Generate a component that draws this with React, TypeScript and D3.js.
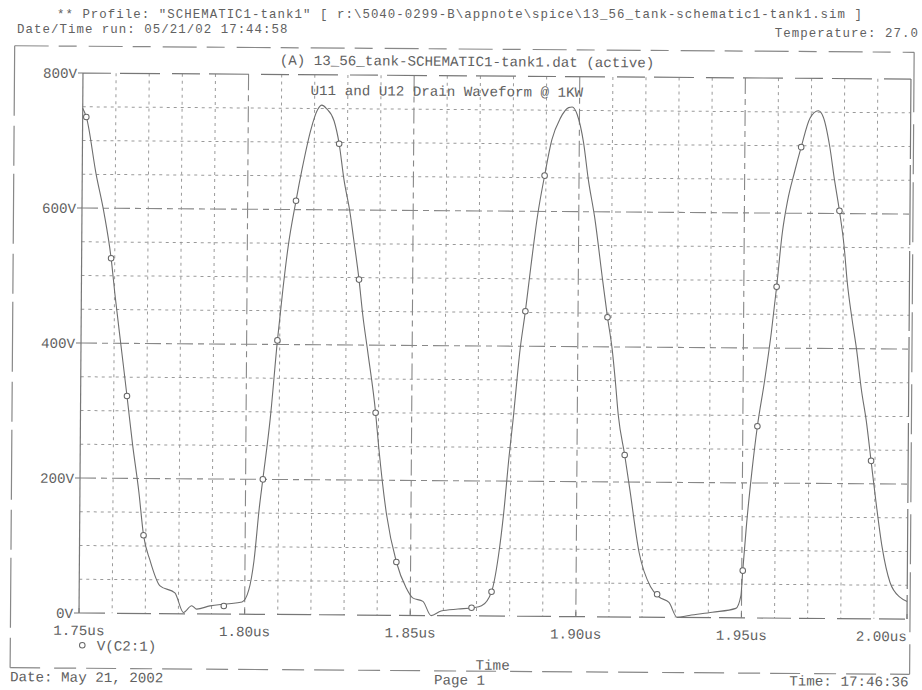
import React from 'react';
import * as d3 from 'd3';

// V(C2:1) drain waveform (time in ns, volts)
const timeNs = [
  1750, 1751.1, 1754.2, 1756.7, 1758.9, 1760.2, 1762.2, 1764.0, 1765.8, 1767.8,
  1769.3, 1771.3, 1774.4, 1778.9, 1781.5, 1784.0, 1785.5, 1789.5, 1794.6, 1799.2,
  1801.2, 1802.7, 1804.2, 1805.2, 1807.3, 1809.3, 1810.8, 1812.3, 1814.6, 1816.4,
  1818.9, 1820.9, 1822.2, 1823.6, 1825.9, 1827.5, 1829.0, 1831.0, 1832.0, 1833.8,
  1835.0, 1836.6, 1839.1, 1840.1, 1842.6, 1845.7, 1848.7, 1850.7, 1853.8, 1856.3,
  1859.3, 1864.4, 1868.9, 1871.5, 1874.5, 1876.5, 1878.0, 1879.5, 1880.6, 1882.6,
  1884.1, 1885.6, 1887.6, 1889.6, 1891.7, 1894.2, 1896.7, 1897.8, 1899.3, 1901.3,
  1902.8, 1904.8, 1907.4, 1908.9, 1910.4, 1911.4, 1912.4, 1914.4, 1916.0, 1919.0,
  1922.5, 1925.1, 1928.1, 1930.6, 1934.2, 1941.2, 1948.3, 1949.8, 1950.3, 1951.3,
  1952.8, 1954.4, 1956.4, 1958.4, 1959.9, 1961.5, 1963.0, 1965.0, 1967.0, 1969.6,
  1972.1, 1973.6, 1975.6, 1977.1, 1978.7, 1980.2, 1981.2, 1982.7, 1984.2, 1985.7,
  1987.3, 1988.8, 1990.3, 1992.3, 1994.8, 1997.9, 2000,
];
const volts = [
  748, 735, 650, 592, 526, 470, 392, 322, 250, 180,
  116, 79, 41, 31, 2, 12, 7, 12, 15, 18,
  36, 79, 158, 200, 290, 406, 480, 544, 613, 661,
  718, 748, 755, 750, 732, 698, 646, 594, 560, 497,
  445, 390, 300, 250, 150, 79, 41, 26, 21, 0,
  7, 10, 12, 15, 36, 89, 153, 237, 290, 396,
  452, 516, 595, 653, 706, 738, 754, 755, 744, 702,
  648, 592, 497, 444, 396, 350, 298, 240, 190, 95,
  45, 30, 22, 0, 3, 8, 14, 33, 70, 136,
  215, 284, 349, 423, 491, 571, 618, 660, 698, 741,
  752, 743, 700, 651, 604, 551, 499, 445, 398, 340,
  292, 234, 176, 107, 54, 32, 26,
];

// little circle symbols printed along the trace
const markerTimeNs = [
  1751.1, 1758.9, 1764.0, 1769.3, 1793.7, 1805.2, 1809.3, 1814.6, 1827.5, 1833.8,
  1839.1, 1845.7, 1868.5, 1874.5, 1884.1, 1889.6, 1908.9, 1914.4, 1924.5, 1950.3,
  1954.4, 1959.9, 1967.0, 1978.7, 1988.8,
];
const markerVolts = [
  735, 526, 322, 116, 12, 200, 406, 613, 698, 497,
  300, 79, 12, 36, 452, 653, 444, 240, 34, 70,
  284, 491, 698, 604, 234,
];

const xTicks = [1750, 1800, 1850, 1900, 1950, 2000];
const xTickLabels = ['1.75us', '1.80us', '1.85us', '1.90us', '1.95us', '2.00us'];
const yTicks = [0, 200, 400, 600, 800];
const yTickLabels = ['0V', '200V', '400V', '600V', '800V'];
const xMinor = d3.range(1760, 2000, 10);
const yMinor = d3.range(50, 800, 50);

const headerProfile =
  '** Profile: "SCHEMATIC1-tank1"  [ r:\\5040-0299-B\\appnote\\spice\\13_56_tank-schematic1-tank1.sim ]';
const headerRun = 'Date/Time run: 05/21/02 17:44:58';
const headerTemp = 'Temperature: 27.0';
const dataFile = '(A) 13_56_tank-SCHEMATIC1-tank1.dat (active)';
const plotTitle = 'U11 and U12 Drain Waveform @ 1KW';
const traceName = 'V(C2:1)';
const footerDate = 'Date: May 21, 2002';
const footerPage = 'Page 1';
const footerTime = 'Time: 17:46:36';
const xTitle = 'Time';

const W = 922;
const H = 690;
const plot = { left: 81, right: 909, top: 75.8, bottom: 615.8 };
const frame = { left: 12.5, right: 912, top: 49, bottom: 671 };

const ink = '#616161';
const font = '"Liberation Mono", "DejaVu Sans Mono", monospace';

const App = () => {
  const x = d3.scaleLinear().domain([1750, 2000]).range([plot.left, plot.right]);
  const y = d3.scaleLinear().domain([0, 800]).range([plot.bottom, plot.top]);

  const points = timeNs.map((t, i) => [t, volts[i]] as [number, number]);
  const line = d3
    .line<[number, number]>()
    .x((d) => x(d[0]))
    .y((d) => y(d[1]))
    .curve(d3.curveMonotoneX);

  const textProps = { fontFamily: font, fontSize: 14.2, fill: ink };
  // the two stacked header lines sit very close in the printout
  const headProps = { fontFamily: font, fontSize: 12.4, letterSpacing: 1.05, fill: ink };

  return (
    <svg
      width={W}
      height={H}
      style={{ position: 'absolute', left: 0, top: 0, background: '#fff' }}
    >
      {/* header lines, kept level so the stacked rows do not collide */}
      <text {...headProps} x={460} y={18.4} textAnchor="middle">
        {headerProfile}
      </text>
      <text {...headProps} x={17} y={32.8}>
        {headerRun}
      </text>
      <text {...headProps} x={919} y={37.2} textAnchor="end">
        {headerTemp}
      </text>

      {/* the scan is tilted a little clockwise */}
      <g transform="rotate(0.42 460 345)">
        {/* page frame */}
        <g stroke="#888" fill="none" strokeWidth={1.2}>
          <line x1={frame.left} x2={frame.right} y1={frame.top} y2={frame.top} strokeDasharray="34 10 18 12" />
          <line x1={frame.left} x2={frame.right} y1={frame.bottom} y2={frame.bottom} strokeDasharray="30 14 22 10" />
          <line x1={frame.left} x2={frame.left} y1={frame.top} y2={frame.bottom} strokeDasharray="70 10 40 8" />
          <line x1={frame.right} x2={frame.right} y1={frame.top} y2={frame.bottom} strokeDasharray="60 12 50 8" />
        </g>

        {/* minor grid */}
        <g stroke="#9a9a9a" strokeWidth={1} strokeDasharray="3 4">
          {xMinor
            .filter((t) => !xTicks.includes(t))
            .map((t) => (
              <line key={'vx' + t} x1={x(t)} x2={x(t)} y1={plot.top} y2={plot.bottom} />
            ))}
          {yMinor
            .filter((v) => !yTicks.includes(v))
            .map((v) => (
              <line key={'hy' + v} x1={plot.left} x2={plot.right} y1={y(v)} y2={y(v)} />
            ))}
        </g>
        {/* major grid */}
        <g stroke="#888" strokeWidth={1.1} strokeDasharray="16 5 6 5">
          {xTicks.slice(1, -1).map((t) => (
            <line key={'mx' + t} x1={x(t)} x2={x(t)} y1={plot.top} y2={plot.bottom} />
          ))}
          {yTicks.slice(1, -1).map((v) => (
            <line key={'my' + v} x1={plot.left} x2={plot.right} y1={y(v)} y2={y(v)} />
          ))}
        </g>

        {/* plot box */}
        <g stroke="#777" strokeWidth={1.2} fill="none">
          <line x1={plot.left} x2={plot.right} y1={plot.top} y2={plot.top} strokeDasharray="28 9 40 12" />
          <line x1={plot.left} x2={plot.right} y1={plot.bottom} y2={plot.bottom} strokeDasharray="26 12 34 8" />
          <line x1={plot.left} x2={plot.left} y1={plot.top} y2={plot.bottom} />
          <line x1={plot.right} x2={plot.right} y1={plot.top} y2={plot.bottom} strokeDasharray="80 6" />
        </g>

        {/* y axis ticks and labels */}
        {yTicks.map((v, i) => (
          <g key={'yt' + v}>
            <line x1={plot.left - 5} x2={plot.left} y1={y(v)} y2={y(v)} stroke="#777" />
            <text {...textProps} x={plot.left - 6} y={y(v) + 5} textAnchor="end">
              {yTickLabels[i]}
            </text>
          </g>
        ))}

        {/* x axis labels */}
        {xTicks.map((t, i) => (
          <g key={'xt' + t}>
            <line x1={x(t)} x2={x(t)} y1={plot.bottom - 5} y2={plot.bottom} stroke="#777" />
            <text
              {...textProps}
              x={x(t)}
              y={plot.bottom + 22}
              textAnchor={i === xTicks.length - 1 ? 'end' : 'middle'}
            >
              {xTickLabels[i]}
            </text>
          </g>
        ))}

        {/* trace */}
        <path d={line(points) ?? ''} fill="none" stroke="#6e6e6e" strokeWidth={1.1} />
        {markerTimeNs.map((t, i) => (
          <circle
            key={'mk' + i}
            cx={x(t)}
            cy={y(markerVolts[i])}
            r={2.8}
            fill="#fff"
            stroke="#666"
            strokeWidth={1}
          />
        ))}

        {/* legend */}
        <circle cx={plot.left + 3.5} cy={648} r={2.8} fill="#fff" stroke="#666" />
        <text {...textProps} x={plot.left + 18} y={653}>
          {traceName}
        </text>

        <text {...textProps} x={465} y={66} textAnchor="middle">
          {dataFile}
        </text>
        <text {...textProps} x={445} y={96} textAnchor="middle">
          {plotTitle}
        </text>

        {/* footer */}
        <text {...textProps} x={(plot.left + plot.right) / 2} y={669.5} textAnchor="middle">
          {xTitle}
        </text>
        <text {...textProps} x={frame.left} y={684.5}>
          {footerDate}
        </text>
        <text {...textProps} x={462} y={684.5} textAnchor="middle">
          {footerPage}
        </text>
        <text {...textProps} x={frame.right - 1} y={683} textAnchor="end">
          {footerTime}
        </text>
      </g>
    </svg>
  );
};

export default App;
